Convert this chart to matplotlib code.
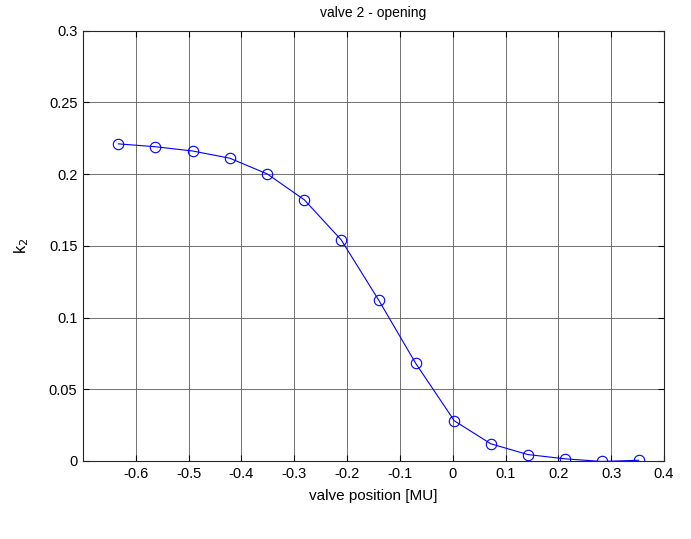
import matplotlib
matplotlib.use("Agg")
import matplotlib.pyplot as plt
import numpy as np

# valve position [MU] and gain k2
position = [-0.633, -0.563, -0.492, -0.422, -0.351, -0.281, -0.211, -0.140,
            -0.070, 0.003, 0.072, 0.142, 0.213, 0.282, 0.352]
k2 = [0.221, 0.219, 0.216, 0.211, 0.200, 0.182, 0.154, 0.112,
      0.068, 0.028, 0.012, 0.0045, 0.0015, -0.0003, 0.0005]

x_ticks = [-0.6, -0.5, -0.4, -0.3, -0.2, -0.1, 0, 0.1, 0.2, 0.3, 0.4]
x_labels = ["-0.6", "-0.5", "-0.4", "-0.3", "-0.2", "-0.1", "0", "0.1", "0.2", "0.3", "0.4"]
y_ticks = [0, 0.05, 0.1, 0.15, 0.2, 0.25, 0.3]
y_labels = ["0", "0.05", "0.1", "0.15", "0.2", "0.25", "0.3"]

plt.rcParams["font.family"] = ["Liberation Sans", "DejaVu Sans"]
plt.rcParams["font.size"] = 10

fig = plt.figure(figsize=(6.91, 5.39), dpi=100)
ax = fig.add_axes([83 / 691, 1 - 461 / 539, (664 - 83) / 691, (461 - 30.5) / 539])

ax.plot(position, k2, color="#0000ff", linewidth=0.8, marker="o",
        markersize=7.5, markerfacecolor="none", markeredgecolor="#0000ff",
        markeredgewidth=0.8)

ax.set_xlim(-0.7, 0.4)
ax.set_ylim(0, 0.3)
ax.set_xticks(x_ticks)
ax.set_xticklabels(x_labels)
ax.set_yticks(y_ticks)
ax.set_yticklabels(y_labels)

ax.grid(True, color="#5a5a5a", linewidth=0.6, linestyle="-")
ax.set_axisbelow(True)
ax.tick_params(direction="in", top=True, right=True, length=4, width=0.8,
               labelsize=10.5, pad=4)
for s in ax.spines.values():
    s.set_linewidth(0.8)
    s.set_color("#262626")

ax.set_xlabel("valve position [MU]", fontsize=11, labelpad=6)
ax.set_ylabel("k$_2$", fontsize=11.5, labelpad=13)
ax.set_title("valve 2 - opening", fontsize=10, pad=10)

fig.savefig("out.png", dpi=100)
